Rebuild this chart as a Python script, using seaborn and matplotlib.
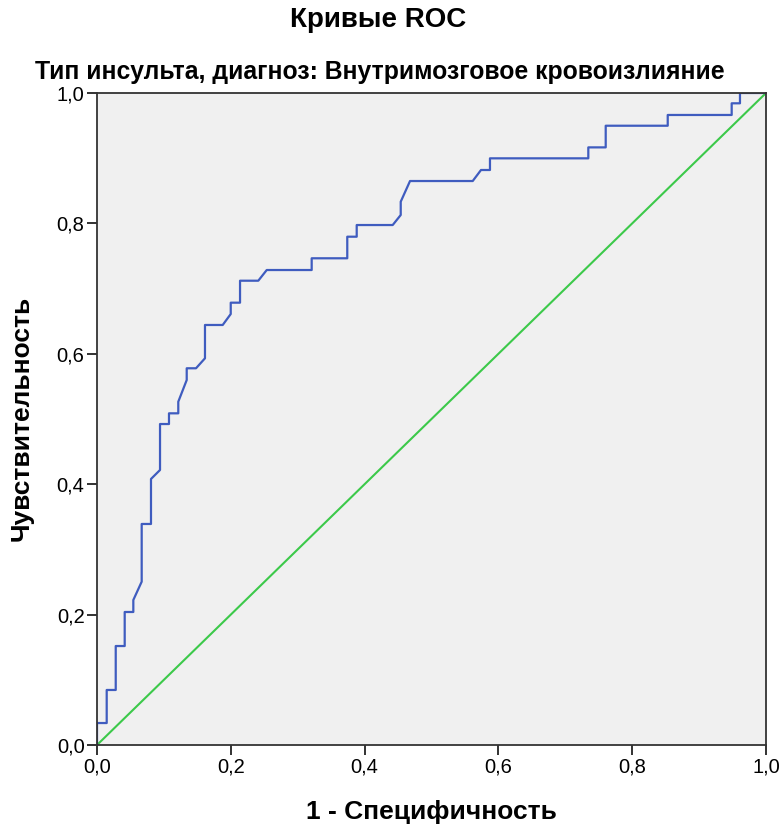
import matplotlib
matplotlib.use("Agg")
import matplotlib.pyplot as plt
import seaborn as sns
import pandas as pd

# ROC curve vertices (1 - specificity, sensitivity)
fpr = [0.0, 0.0, 0.0145, 0.0145, 0.028, 0.028, 0.0414, 0.0414, 0.0543, 0.0543,
       0.0668, 0.0668, 0.0807, 0.0807, 0.0942, 0.0942, 0.1076, 0.1076, 0.1215, 0.1215,
       0.1341, 0.1341, 0.148, 0.1614, 0.1614, 0.1879, 0.1999, 0.1999, 0.2138, 0.2138,
       0.2411, 0.2537, 0.3209, 0.3209, 0.3741, 0.3741, 0.3882, 0.3882, 0.442, 0.454,
       0.454, 0.4679, 0.5616, 0.574, 0.5874, 0.5874, 0.7344, 0.7344, 0.7604, 0.7604,
       0.8531, 0.8531, 0.9487, 0.9487, 0.9611, 0.9611, 1.0]
tpr = [0.0, 0.0337, 0.0337, 0.0844, 0.0844, 0.1518, 0.1518, 0.204, 0.204, 0.2224,
       0.2505, 0.339, 0.339, 0.408, 0.4218, 0.4923, 0.4923, 0.5087, 0.5087, 0.5265,
       0.5598, 0.5778, 0.5778, 0.5931, 0.6442, 0.6442, 0.661, 0.6784, 0.6784, 0.7121,
       0.7121, 0.7285, 0.7285, 0.7465, 0.7465, 0.7796, 0.7796, 0.7975, 0.7975, 0.8129,
       0.8333, 0.865, 0.865, 0.8819, 0.8819, 0.8998, 0.8998, 0.9166, 0.9166, 0.9498,
       0.9498, 0.9663, 0.9663, 0.9842, 0.9842, 1.0, 1.0]
ref_x = [0.0, 1.0]
ref_y = [0.0, 1.0]
ticks = [0.0, 0.2, 0.4, 0.6, 0.8, 1.0]
tick_labels = ["0,0", "0,2", "0,4", "0,6", "0,8", "1,0"]

sns.set_theme(style="white")
plt.rcParams['font.family'] = ['Liberation Sans', 'DejaVu Sans']
plt.rcParams['text.color'] = 'black'

fig = plt.figure(figsize=(7.82, 8.32), dpi=100)
ax = fig.add_axes([97/782, 1 - 745/832, 669/782, 652/832])
ax.set_facecolor("#F0F0F0")

roc = pd.DataFrame({"fpr": fpr, "tpr": tpr})
ref = pd.DataFrame({"x": ref_x, "y": ref_y})
sns.lineplot(data=ref, x="x", y="y", ax=ax, color="#3CC94A", linewidth=1.5,
             sort=False, estimator=None)
sns.lineplot(data=roc, x="fpr", y="tpr", ax=ax, color="#3F5CBF", linewidth=1.6,
             sort=False, estimator=None)

ax.set_xlim(0, 1)
ax.set_ylim(0, 1)
ax.set_xticks(ticks)
ax.set_yticks(ticks)
ax.set_xticklabels(tick_labels, fontsize=14.5)
ax.set_yticklabels(tick_labels, fontsize=14.5)
ax.tick_params(axis="both", direction="out", length=7, width=1.3, color="#222222",
               pad=2, bottom=True, left=True, labelcolor="black")
for s in ax.spines.values():
    s.set_color("#333333")
    s.set_linewidth(1.3)

ax.set_xlabel("")
ax.set_ylabel("")
fig.text(431.5/782, 1 - 812/832, "1 - Специфичность", ha="center", va="center",
         fontsize=19, fontweight="bold")
fig.text(22/782, 1 - 418/832, "Чувствительность", ha="center", va="center",
         rotation=90, fontsize=19, fontweight="bold")

fig.text(378/782, 1 - 20/832, "Кривые ROC", ha="center", va="center",
         fontsize=20, fontweight="bold")
fig.text(379.5/782, 1 - 72/832, "Тип инсульта, диагноз: Внутримозговое кровоизлияние",
         ha="center", va="center", fontsize=17.8, fontweight="bold")

fig.savefig("out.png", dpi=100, facecolor="white")
